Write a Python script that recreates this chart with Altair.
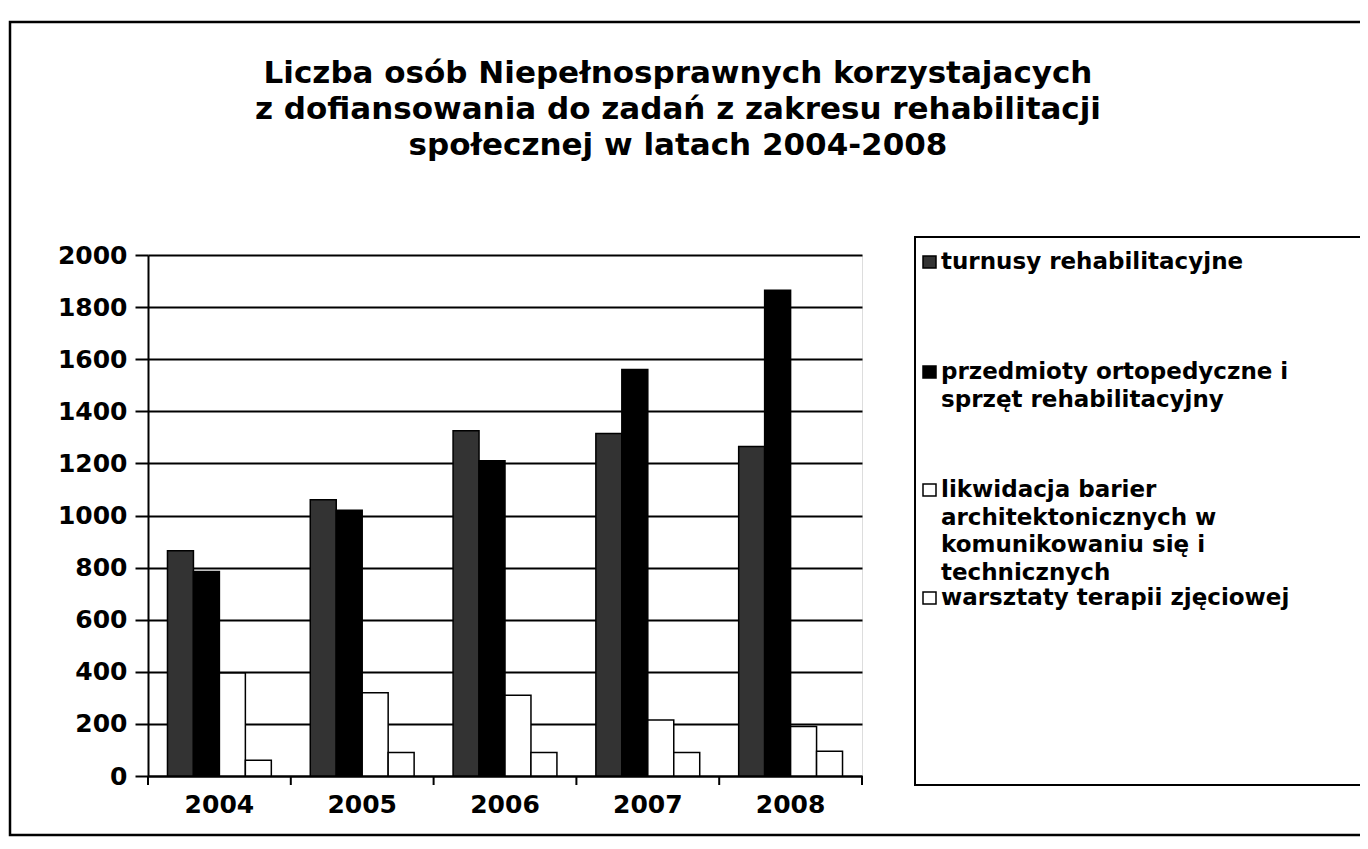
import altair as alt
import pandas as pd

years = ["2004", "2005", "2006", "2007", "2008"]
series = [
    "turnusy rehabilitacyjne",
    "przedmioty ortopedyczne i sprzęt rehabilitacyjny",
    "likwidacja barier architektonicznych w komunikowaniu się i technicznych",
    "warsztaty terapii zjęciowej",
]
turnusy = [865, 1060, 1325, 1315, 1265]
przedmioty = [785, 1020, 1210, 1560, 1865]
likwidacja = [395, 320, 310, 215, 190]
warsztaty = [60, 90, 90, 90, 95]
colors = ["#333333", "#000000", "#ffffff", "#ffffff"]
y_ticks = [0, 200, 400, 600, 800, 1000, 1200, 1400, 1600, 1800, 2000]
legend_lines = [
    ["turnusy rehabilitacyjne"],
    ["przedmioty ortopedyczne i", "sprzęt rehabilitacyjny"],
    ["likwidacja barier", "architektonicznych w", "komunikowaniu się i", "technicznych"],
    ["warsztaty terapii zjęciowej"],
]
title_lines = [
    "Liczba osób Niepełnosprawnych korzystajacych",
    "z dofiansowania do zadań z zakresu rehabilitacji",
    "społecznej w latach 2004-2008",
]

FONT = "DejaVu Sans"
W, H = 714, 521

rows = []
for s, vals in zip(series, [turnusy, przedmioty, likwidacja, warsztaty]):
    for yr, v in zip(years, vals):
        rows.append({"year": yr, "series": s, "value": v})
df = pd.DataFrame(rows)
years_df = pd.DataFrame({"year": years})

bars = alt.Chart(df).mark_bar(stroke="black", strokeWidth=1.5).encode(
    x=alt.X("year:N", sort=years, title=None,
            scale=alt.Scale(paddingInner=0, paddingOuter=0),
            axis=alt.Axis(ticks=False, labelAngle=0, labelFont=FONT, labelFontSize=25,
                          labelFontWeight="bold", labelColor="black", labelPadding=16,
                          domainColor="black", domainWidth=2, grid=False)),
    xOffset=alt.XOffset("series:N", sort=series,
                        scale=alt.Scale(paddingOuter=0.75, paddingInner=0)),
    y=alt.Y("value:Q", title=None,
            scale=alt.Scale(domain=[0, 2000], nice=False),
            axis=alt.Axis(values=y_ticks, format="d", labelFont=FONT, labelFontSize=25,
                          labelFontWeight="bold", labelColor="black", labelPadding=8,
                          tickSize=13, tickWidth=2, tickColor="black",
                          domainColor="black", domainWidth=2,
                          grid=True, gridColor="black", gridWidth=2)),
    fill=alt.Fill("series:N", sort=series,
                  scale=alt.Scale(domain=series, range=colors), legend=None),
)

xticks = alt.Chart(years_df).mark_rule(color="black", strokeWidth=2).encode(
    x=alt.X("year:N", sort=years, bandPosition=0),
    y=alt.value(H), y2=alt.value(H + 9),
)
xtick_end = alt.Chart(years_df).mark_rule(color="black", strokeWidth=2).encode(
    x=alt.value(W), y=alt.value(H), y2=alt.value(H + 9),
)

one = alt.Data(values=[{"k": 1}])
frame = alt.Chart(one).mark_rect(fill=None, stroke="black", strokeWidth=2.5).encode(
    x=alt.value(-138), x2=alt.value(1260), y=alt.value(-233), y2=alt.value(580),
)
legend_box = alt.Chart(one).mark_rect(fill="white", stroke="black", strokeWidth=2).encode(
    x=alt.value(767), x2=alt.value(1240), y=alt.value(-18), y2=alt.value(530),
)

layers = [frame, bars, xticks, xtick_end, legend_box]

entry_y = [7, 117, 235, 343]
line_h = 27.5
for i, lines in enumerate(legend_lines):
    y0 = entry_y[i]
    layers.append(
        alt.Chart(one).mark_rect(stroke="black", strokeWidth=1.5).encode(
            x=alt.value(775), x2=alt.value(788),
            y=alt.value(y0 - 6), y2=alt.value(y0 + 6),
            fill=alt.value(colors[i]),
        )
    )
    for j, line in enumerate(lines):
        layers.append(
            alt.Chart(one).mark_text(align="left", baseline="middle", font=FONT,
                                     fontSize=23, fontWeight="bold", color="black").encode(
                x=alt.value(793), y=alt.value(y0 + j * line_h), text=alt.value(line),
            )
        )

title_y = [-181, -145, -109]
for t, ty in zip(title_lines, title_y):
    layers.append(
        alt.Chart(one).mark_text(align="center", baseline="middle", font=FONT,
                                 fontSize=31, fontWeight="bold", color="black").encode(
            x=alt.value(530), y=alt.value(ty), text=alt.value(t),
        )
    )

chart = alt.layer(*layers).properties(
    width=W, height=H,
    autosize=alt.AutoSizeParams(type="none"),
    padding={"left": 140, "top": 247, "right": 498, "bottom": 65},
).configure_view(
    fill="#cbcbcb", stroke="black", strokeWidth=2,
).configure(background="white")

chart.save("out.html", embed_options={"renderer": "svg", "actions": False})
